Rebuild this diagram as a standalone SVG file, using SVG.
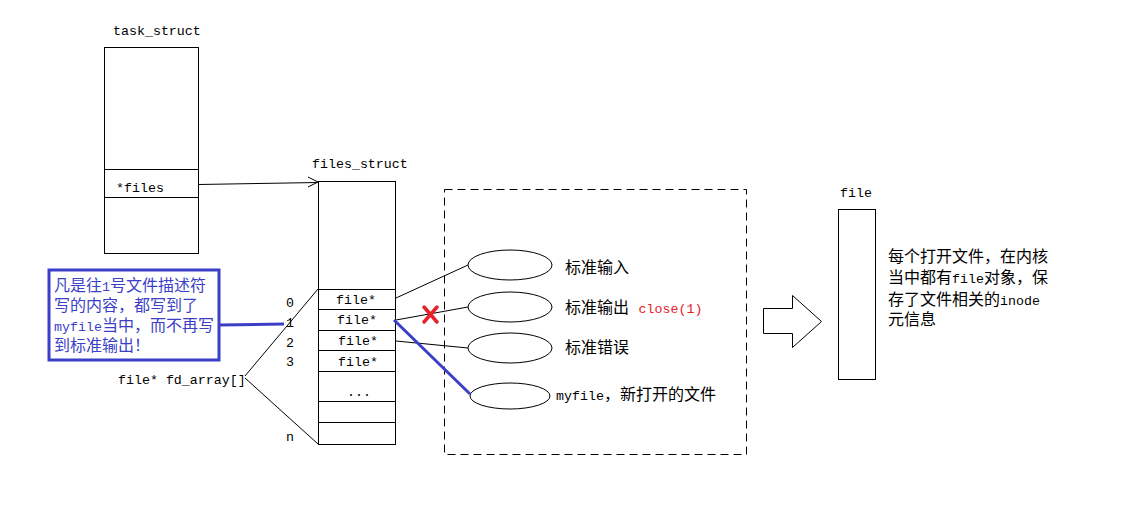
<svg xmlns="http://www.w3.org/2000/svg" width="1137" height="506" viewBox="0 0 1137 506">
<style>
.box{fill:#fff;stroke:#000;stroke-width:1}
.ln{stroke:#000;stroke-width:1;fill:none}
.m{font-family:"Liberation Mono","Noto Sans CJK SC",monospace;font-size:13.3px;fill:#000}
.c{font-family:"Liberation Mono","Noto Sans CJK SC",monospace;font-size:16px;fill:#000}
.a{font-family:"Liberation Mono",monospace;font-size:13.3px}
.blue{fill:#3b3fc8}
.red{fill:#e8202a}
</style>
<rect width="1137" height="506" fill="#fff"/>
<g id="task_struct">
<text class="m" x="113" y="35">task_struct</text>
<rect class="box" x="104.5" y="47.5" width="94" height="206"/>
<line class="ln" x1="104.5" y1="169.5" x2="198.5" y2="169.5"/>
<line class="ln" x1="104.5" y1="197.5" x2="198.5" y2="197.5"/>
<text class="m" x="116" y="192">*files</text>
</g>
<g id="files_struct">
<text class="m" x="312" y="168">files_struct</text>
<rect class="box" x="318.5" y="181.5" width="77" height="263"/>
<line class="ln" x1="318.5" y1="289.5" x2="395.5" y2="289.5"/>
<line class="ln" x1="318.5" y1="309.5" x2="395.5" y2="309.5"/>
<line class="ln" x1="318.5" y1="330.5" x2="395.5" y2="330.5"/>
<line class="ln" x1="318.5" y1="350.5" x2="395.5" y2="350.5"/>
<line class="ln" x1="318.5" y1="371.5" x2="395.5" y2="371.5"/>
<line class="ln" x1="318.5" y1="401.5" x2="395.5" y2="401.5"/>
<line class="ln" x1="318.5" y1="422.5" x2="395.5" y2="422.5"/>
<text class="m" x="336" y="304">file*</text>
<text class="m" x="337" y="324">file*</text>
<text class="m" x="338" y="345">file*</text>
<text class="m" x="338" y="366">file*</text>
<text class="m" x="347" y="396">...</text>
</g>
<g id="fd_array">
<text class="m" x="286" y="307">0</text>
<text class="m" x="286" y="327">1</text>
<text class="m" x="286" y="347">2</text>
<text class="m" x="286" y="366">3</text>
<text class="m" x="286" y="441">n</text>
<text class="m" x="118" y="384">file* fd_array[]</text>
</g>
<g id="note">
<rect x="49" y="270" width="170" height="90" fill="#fff" stroke="#3b3fc8" stroke-width="3"/>
<text class="c blue" x="54" y="291">凡是往<tspan class="a">1</tspan>号文件描述符</text>
<text class="c blue" x="54" y="311">写的内容，都写到了</text>
<text class="c blue" x="54" y="331"><tspan class="a">myfile</tspan>当中，而不再写</text>
<text class="c blue" x="54" y="351">到标准输出！</text>
</g>
<g id="open_files">
<rect x="444.5" y="189.5" width="302" height="265" fill="none" stroke="#000" stroke-width="1" stroke-dasharray="8,5"/>
<ellipse class="box" cx="510" cy="265" rx="42" ry="15"/>
<ellipse class="box" cx="510" cy="307" rx="42" ry="15"/>
<ellipse class="box" cx="510" cy="348" rx="42" ry="15"/>
<ellipse class="box" cx="510" cy="396" rx="40" ry="13"/>
<text class="c" x="565" y="273">标准输入</text>
<text class="c" x="565" y="313">标准输出 <tspan class="a red">close(1)</tspan></text>
<text class="c" x="565" y="353">标准错误</text>
<text class="c" x="556" y="400"><tspan class="a">myfile</tspan>，新打开的文件</text>
</g>
<g id="file">
<text class="m" x="840" y="197">file</text>
<rect class="box" x="838.5" y="209.5" width="37" height="170"/>
<text class="c" x="888" y="262">每个打开文件，在内核</text>
<text class="c" x="888" y="283">当中都有<tspan class="a">file</tspan>对象，保</text>
<text class="c" x="888" y="305">存了文件相关的<tspan class="a">inode</tspan></text>
<text class="c" x="888" y="325">元信息</text>
</g>
<g id="big_arrow">
<polygon points="763.5,308.5 792.5,308.5 792.5,295.5 821.5,321.5 792.5,347.5 792.5,333.5 763.5,333.5" fill="#fff" stroke="#000" stroke-width="1"/>
</g>
<g id="connectors">
<line class="ln" x1="198.5" y1="184.5" x2="318" y2="182.5"/>
<polyline class="ln" points="308,177 318,182 308,187"/>
<line class="ln" x1="245" y1="376" x2="318" y2="289"/>
<line class="ln" x1="245" y1="378" x2="318" y2="444"/>
<line class="ln" x1="396" y1="298" x2="468" y2="265"/>
<line class="ln" x1="396" y1="320" x2="468" y2="307"/>
<line class="ln" x1="396" y1="341" x2="468" y2="348"/>
<line x1="394" y1="320" x2="470" y2="394" stroke="#3b3fc8" stroke-width="3"/>
<line x1="219" y1="325" x2="284" y2="324" stroke="#3b3fc8" stroke-width="3"/>
<g stroke="#e8202a" stroke-width="3.5" stroke-linecap="round">
<line x1="424" y1="307" x2="437" y2="322"/>
<line x1="437" y1="307" x2="424" y2="322"/>
</g>
</g>
</svg>
